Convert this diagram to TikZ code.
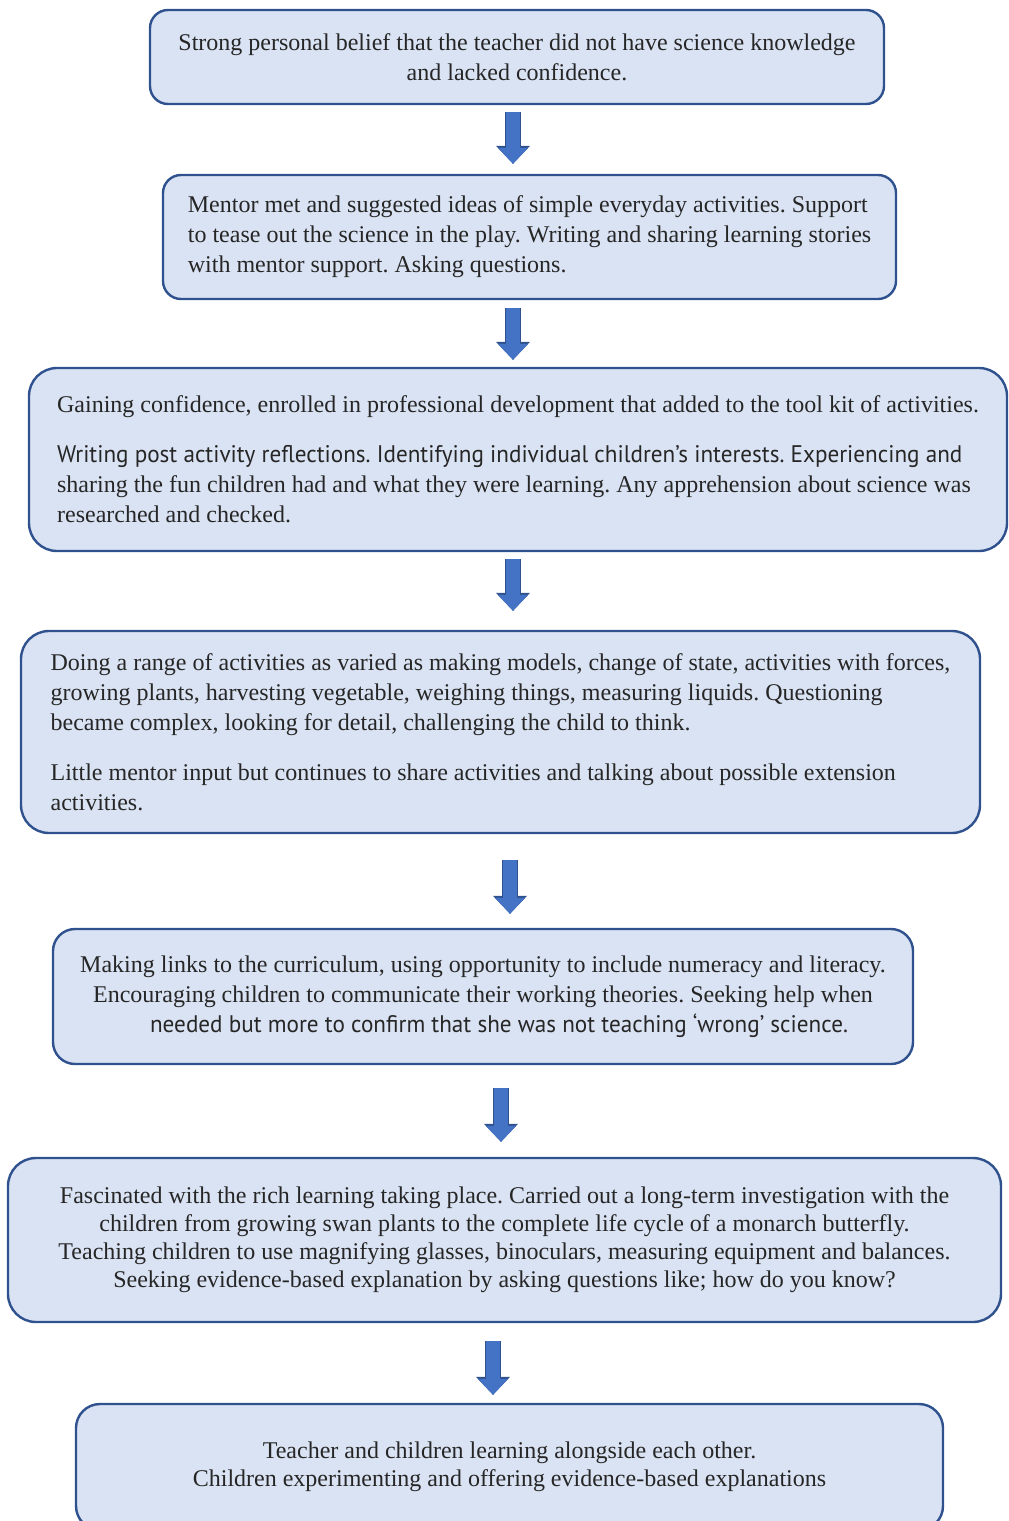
\documentclass[tikz,border=0pt]{standalone}
\usepackage{fontspec}
\setmainfont{Liberation Serif}
\newfontfamily\sansfont[FakeStretch = 0.965]{PT Sans}
\usetikzlibrary{arrows.meta}
\frenchspacing
\definecolor{boxfill}{HTML}{DAE3F3}
\definecolor{boxline}{HTML}{2F528F}
\definecolor{arrowfill}{HTML}{4472C4}
\tikzstyle{stage} = [rectangle, rounded corners = 9pt, draw = boxline, line width = 1.2pt, fill = boxfill, text = black!85, inner sep = 0pt, font = \fontsize{12}{15}\selectfont]
\tikzstyle{bigstage} = [stage, rounded corners = 14pt]
\tikzstyle{arrow} = [draw = arrowfill, line width = 7pt, -{Triangle[width = 15pt, length = 8pt, line width = 0.4pt]}, preaction = {draw = boxline, line width = 8.2pt, -{Triangle[width = 17pt, length = 9pt, line width = 0.4pt]}}]

\begin{document}
\begin{tikzpicture}[x = 0.5pt, y = -0.5pt]

	\useasboundingbox (0,0) rectangle (1008,1521);

	\node[stage, minimum width = 367pt, minimum height = 47pt, align = center] (Stage 1) at (517,57)
		{Strong personal belief that the teacher did not have science knowledge\\and lacked confidence.};
	\node[stage, minimum width = 366.5pt, minimum height = 62pt, align = left] (Stage 2) at (529.5,237)
		{Mentor met and suggested ideas of simple everyday activities. Support\\to tease out the science in the play. Writing and sharing learning stories\\with mentor support. Asking questions.};
	\node[bigstage, minimum width = 489pt, minimum height = 91.5pt, align = left] (Stage 3) at (518,459.5)
		{Gaining confidence, enrolled in professional development that added to the tool kit of activities.\\[10pt]{\sansfont Writing post activity reflections. Identifying individual children’s interests. Experiencing and}\\sharing the fun children had and what they were learning. Any apprehension about science was\\researched and checked.};
	\node[bigstage, minimum width = 479.5pt, minimum height = 101pt, align = left] (Stage 4) at (500.5,732)
		{Doing a range of activities as varied as making models, change of state, activities with forces,\\growing plants, harvesting vegetable, weighing things, measuring liquids. Questioning\\became complex, looking for detail, challenging the child to think.\\[10pt]Little mentor input but continues to share activities and talking about possible extension\\activities.};
	\node[stage, rounded corners = 11pt, minimum width = 430pt, minimum height = 67.5pt, align = center] (Stage 5) at (483,996.5)
		{Making links to the curriculum, using opportunity to include numeracy and literacy.\\Encouraging children to communicate their working theories. Seeking help when\\\hspace*{16pt}{\sansfont needed but more to confirm that she was not teaching ‘wrong’ science.}};
	\node[bigstage, minimum width = 496.5pt, minimum height = 82pt, align = center, font = \fontsize{12}{14}\selectfont] (Stage 6) at (504.5,1240)
		{Fascinated with the rich learning taking place. Carried out a long-term investigation with the\\children from growing swan plants to the complete life cycle of a monarch butterfly.\\Teaching children to use magnifying glasses, binoculars, measuring equipment and balances.\\Seeking evidence-based explanation by asking questions like; how do you know?};
	\node[bigstage, rounded corners = 12pt, minimum width = 433.5pt, minimum height = 63pt, align = center, font = \fontsize{12}{14}\selectfont] (Stage 7) at (509.5,1467)
		{Teacher and children learning alongside each other.\\Children experimenting and offering evidence-based explanations};

	% x positions of the block arrows
	\coordinate (x1) at (513,0);
	\coordinate (x4) at (510,0);
	\coordinate (x5) at (501,0);
	\coordinate (x6) at (493,0);

	\draw [arrow, shorten <= 3.5pt, shorten >= 5pt](Stage 1.south -| x1)--(Stage 2.north -| x1);
	\draw [arrow, shorten <= 4pt, shorten >= 3.5pt](Stage 2.south -| x1)--(Stage 3.north -| x1);
	\draw [arrow, shorten <= 3.5pt, shorten >= 9.5pt](Stage 3.south -| x1)--(Stage 4.north -| x1);
	\draw [arrow, shorten <= 13pt, shorten >= 7pt](Stage 4.south -| x4)--(Stage 5.north -| x4);
	\draw [arrow, shorten <= 11.5pt, shorten >= 7.5pt](Stage 5.south -| x5)--(Stage 6.north -| x5);
	\draw [arrow, shorten <= 9pt, shorten >= 4pt](Stage 6.south -| x6)--(Stage 7.north -| x6);

\end{tikzpicture}
\end{document}
